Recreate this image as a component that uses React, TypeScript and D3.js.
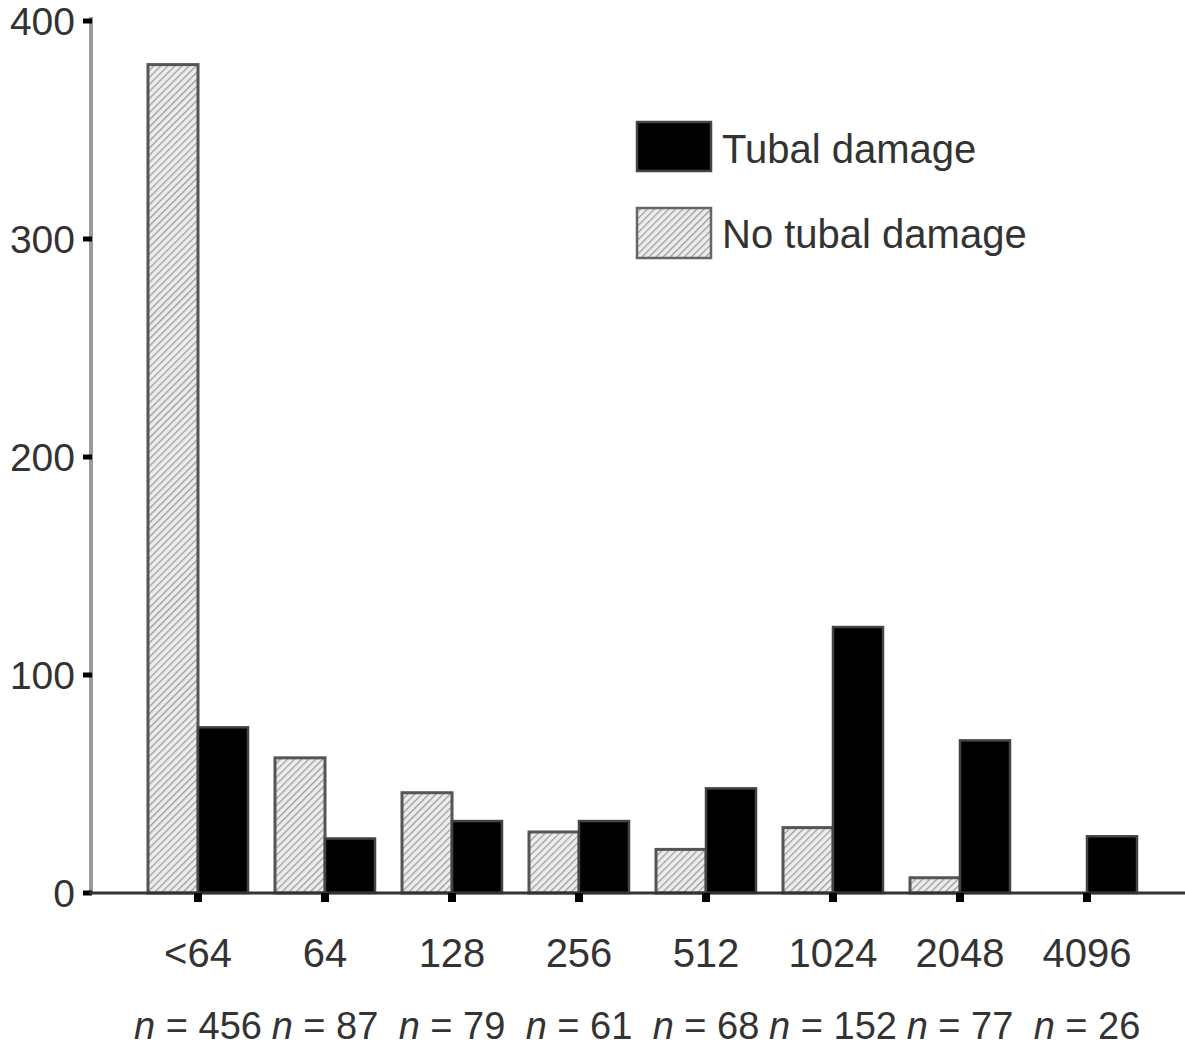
import React from 'react';
import * as d3 from 'd3';

// Antibody titre categories
const categories = ['<64', '64', '128', '256', '512', '1024', '2048', '4096'];
const sampleSizes = [456, 87, 79, 61, 68, 152, 77, 26];
const noTubalDamage = [380, 62, 46, 28, 20, 30, 7, 0];
const tubalDamage = [76, 25, 33, 33, 48, 122, 70, 26];
const yTicks = [0, 100, 200, 300, 400];
const seriesKeys = ['none', 'tubal'];

const FONT = '"Liberation Sans", Arial, Helvetica, sans-serif';

const App = () => {
  const width = 1185;
  const height = 1049;

  const x = d3.scaleBand()
    .domain(categories)
    .range([134.5, 1150.5])
    .paddingInner(0.2126)
    .paddingOuter(0.1063);

  const sub = d3.scaleBand()
    .domain(seriesKeys)
    .range([0, x.bandwidth()]);

  const y = d3.scaleLinear()
    .domain([0, 400])
    .range([893, 21]);

  const rows = categories.map((c, i) => ({
    cat: c,
    n: sampleSizes[i],
    none: noTubalDamage[i],
    tubal: tubalDamage[i],
  }));

  const center = (c: string) => (x(c) as number) + x.bandwidth() / 2;

  return (
    <svg width={width} height={height} style={{ position: 'absolute', left: 0, top: 0, background: '#fff' }}>
      <defs>
        <pattern id="hatch" width="5" height="5" patternUnits="userSpaceOnUse" patternTransform="rotate(45)">
          <rect width="5" height="5" fill="#ececec" />
          <line x1="0" y1="0" x2="0" y2="5" stroke="#999" strokeWidth="2.4" />
        </pattern>
      </defs>

      {/* bars */}
      {rows.map(d => (
        <g key={d.cat} transform={`translate(${x(d.cat)},0)`}>
          {d.none > 0 && (
            <rect
              x={sub('none')}
              y={y(d.none)}
              width={sub.bandwidth()}
              height={y(0) - y(d.none)}
              fill="url(#hatch)"
              stroke="#555"
              strokeWidth={3}
            />
          )}
          <rect
            x={sub('tubal')}
            y={y(d.tubal)}
            width={sub.bandwidth()}
            height={y(0) - y(d.tubal)}
            fill="#000"
            stroke="#444"
            strokeWidth={2.5}
          />
        </g>
      ))}

      {/* y axis */}
      <line x1={91} x2={91} y1={y(400) - 4} y2={y(0)} stroke="#999" strokeWidth={4} />
      {yTicks.map(t => (
        <g key={t}>
          <rect x={83} y={y(t) - 2.5} width={9} height={5} fill="#000" />
          <text
            x={75}
            y={y(t)}
            dy="0.36em"
            textAnchor="end"
            fontFamily={FONT}
            fontSize={39}
            fill="#333"
          >
            {t}
          </text>
        </g>
      ))}

      {/* x axis */}
      <line x1={89} x2={width} y1={y(0)} y2={y(0)} stroke="#333" strokeWidth={3} />
      {rows.map(d => (
        <g key={'lab' + d.cat}>
          <rect x={center(d.cat) - 4} y={y(0)} width={8} height={9} fill="#000" />
          <text
            x={center(d.cat)}
            y={967}
            textAnchor="middle"
            fontFamily={FONT}
            fontSize={40}
            fill="#333"
          >
            {d.cat}
          </text>
          <text
            x={center(d.cat)}
            y={1039}
            textAnchor="middle"
            fontFamily={FONT}
            fontSize={38}
            fill="#333"
          >
            <tspan fontStyle="italic">n</tspan>
            <tspan> = {d.n}</tspan>
          </text>
        </g>
      ))}

      {/* legend */}
      <g>
        <rect x={637} y={122} width={74} height={49} fill="#000" stroke="#444" strokeWidth={2.5} />
        <text x={722} y={163} fontFamily={FONT} fontSize={40} fill="#333">Tubal damage</text>
        <rect x={637} y={208} width={74} height={50} fill="url(#hatch)" stroke="#666" strokeWidth={2.5} />
        <text x={722} y={248} fontFamily={FONT} fontSize={40} fill="#333">No tubal damage</text>
      </g>
    </svg>
  );
};

export default App;
